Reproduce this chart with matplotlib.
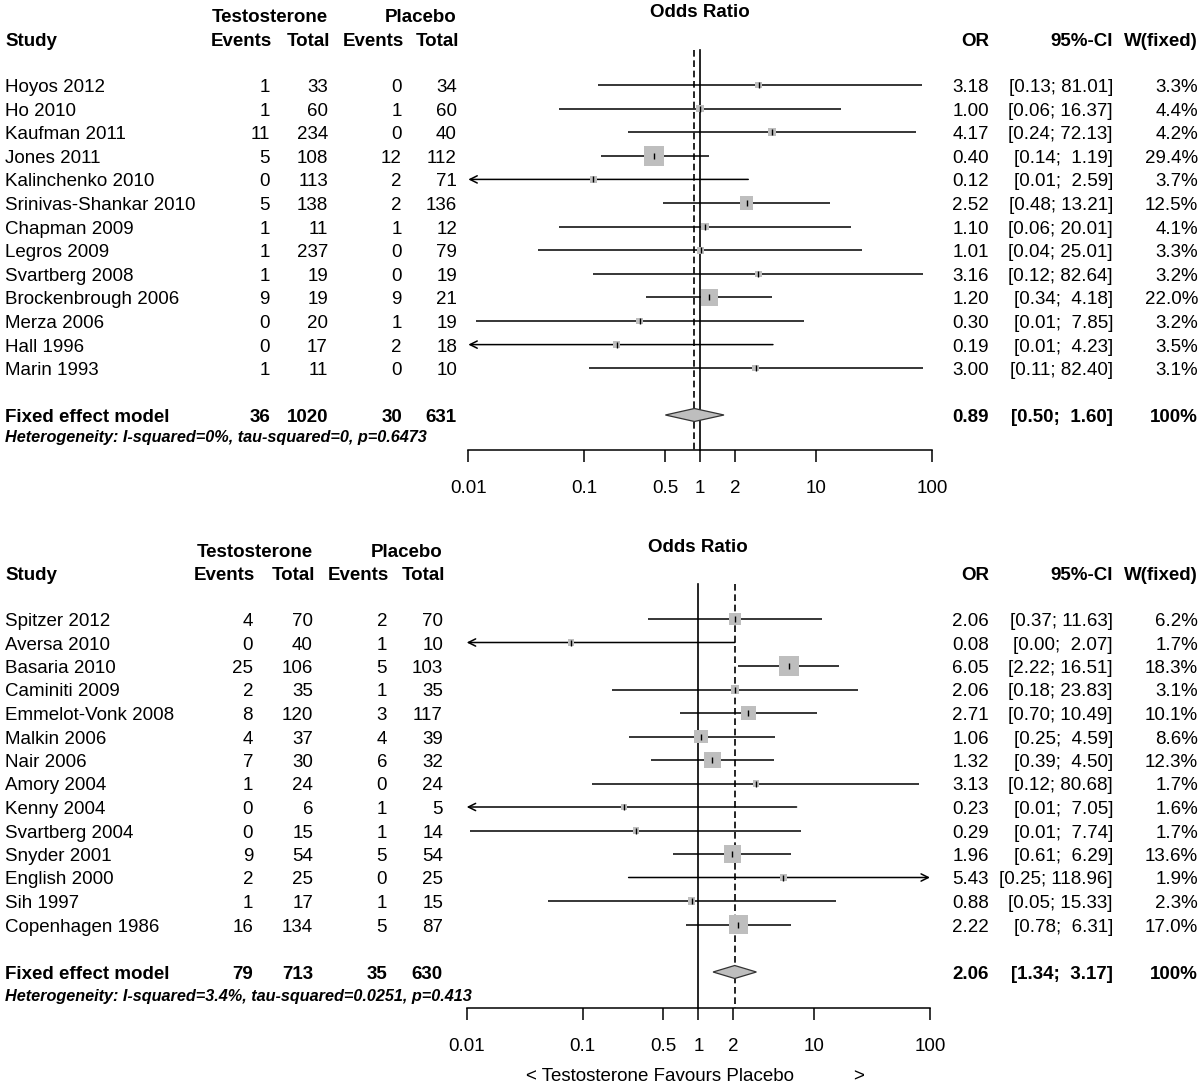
import matplotlib
matplotlib.use("Agg")
import matplotlib.pyplot as plt
from matplotlib.patches import Polygon

plt.rcParams['font.family'] = ['Liberation Sans', 'DejaVu Sans']

# ---------------- data: panel 1 ----------------
names1 = ["Hoyos 2012", "Ho 2010", "Kaufman 2011", "Jones 2011", "Kalinchenko 2010",
          "Srinivas-Shankar 2010", "Chapman 2009", "Legros 2009", "Svartberg 2008",
          "Brockenbrough 2006", "Merza 2006", "Hall 1996", "Marin 1993"]
ev_t1 = [1, 1, 11, 5, 0, 5, 1, 1, 1, 9, 0, 0, 1]
n_t1 = [33, 60, 234, 108, 113, 138, 11, 237, 19, 19, 20, 17, 11]
ev_p1 = [0, 1, 0, 12, 2, 2, 1, 0, 0, 9, 1, 2, 0]
n_p1 = [34, 60, 40, 112, 71, 136, 12, 79, 19, 21, 19, 18, 10]
or1 = [3.18, 1.00, 4.17, 0.40, 0.12, 2.52, 1.10, 1.01, 3.16, 1.20, 0.30, 0.19, 3.00]
lo1 = [0.13, 0.06, 0.24, 0.14, 0.006, 0.48, 0.06, 0.04, 0.12, 0.34, 0.0117, 0.008, 0.11]
hi1 = [81.01, 16.37, 72.13, 1.19, 2.59, 13.21, 20.01, 25.01, 82.64, 4.18, 7.85, 4.23, 82.40]
w1 = [3.3, 4.4, 4.2, 29.4, 3.7, 12.5, 4.1, 3.3, 3.2, 22.0, 3.2, 3.5, 3.1]
fixed_counts1 = [36, 1020, 30, 631]
fixed_or1 = [0.89, 0.50, 1.60]
het1 = "Heterogeneity: I-squared=0%, tau-squared=0, p=0.6473"

# ---------------- data: panel 2 ----------------
names2 = ["Spitzer 2012", "Aversa 2010", "Basaria 2010", "Caminiti 2009", "Emmelot-Vonk 2008",
          "Malkin 2006", "Nair 2006", "Amory 2004", "Kenny 2004", "Svartberg 2004",
          "Snyder 2001", "English 2000", "Sih 1997", "Copenhagen 1986"]
ev_t2 = [4, 0, 25, 2, 8, 4, 7, 1, 0, 0, 9, 2, 1, 16]
n_t2 = [70, 40, 106, 35, 120, 37, 30, 24, 6, 15, 54, 25, 17, 134]
ev_p2 = [2, 1, 5, 1, 3, 4, 6, 0, 1, 1, 5, 0, 1, 5]
n_p2 = [70, 10, 103, 35, 117, 39, 32, 24, 5, 14, 54, 25, 15, 87]
or2 = [2.06, 0.08, 6.05, 2.06, 2.71, 1.06, 1.32, 3.13, 0.23, 0.29, 1.96, 5.43, 0.88, 2.22]
lo2 = [0.37, 0.003, 2.22, 0.18, 0.70, 0.25, 0.39, 0.12, 0.007, 0.0107, 0.61, 0.25, 0.05, 0.78]
hi2 = [11.63, 2.07, 16.51, 23.83, 10.49, 4.59, 4.50, 80.68, 7.05, 7.74, 6.29, 118.96, 15.33, 6.31]
w2 = [6.2, 1.7, 18.3, 3.1, 10.1, 8.6, 12.3, 1.7, 1.6, 1.7, 13.6, 1.9, 2.3, 17.0]
fixed_counts2 = [79, 713, 35, 630]
fixed_or2 = [2.06, 1.34, 3.17]
het2 = "Heterogeneity: I-squared=3.4%, tau-squared=0.0251, p=0.413"

tick_vals = [0.01, 0.1, 0.5, 1, 2, 10, 100]
tick_labels = ["0.01", "0.1", "0.5", "1", "2", "10", "100"]
xlabel_left = "< Testosterone Favours Placebo"
xlabel_right = ">"

# ---------------- figure ----------------
W, H = 1200, 1085
fig = plt.figure(figsize=(12, 10.85), dpi=100)
ov = fig.add_axes([0, 0, 1, 1])
ov.set_xlim(0, W)
ov.set_ylim(H, 0)
ov.axis('off')

FS = 13.5
GRAY = '#bebebe'


def panel(names, ev_t, n_t, ev_p, n_p, ors, los, his, ws, fcounts, fors, het,
          y_head1, y_head2, y_first, dy, y_fixed, y_het, y_axis, y_top,
          ax_x0, ax_x1, cols, odds_x):
    # header texts
    ov.text(5, y_head2 + 7, "Study", fontsize=FS, fontweight='bold', ha='left', va='baseline')
    ov.text(cols[1], y_head1 + 7, "Testosterone", fontsize=FS, fontweight='bold', ha='right', va='baseline')
    ov.text(cols[3], y_head1 + 7, "Placebo", fontsize=FS, fontweight='bold', ha='right', va='baseline')
    for c, lab in zip(cols, ["Events", "Total", "Events", "Total"]):
        ov.text(c + 2, y_head2 + 7, lab, fontsize=FS, fontweight='bold', ha='right', va='baseline')
    ov.text(odds_x, y_head1 + 2, "Odds Ratio", fontsize=FS, fontweight='bold', ha='center', va='baseline')
    ov.text(989, y_head2 + 7, "OR", fontsize=FS, fontweight='bold', ha='right', va='baseline')
    ov.text(1113, y_head2 + 7, "95%-CI", fontsize=FS, fontweight='bold', ha='right', va='baseline')
    ov.text(1198, y_head2 + 7, "W(fixed)", fontsize=FS, fontweight='bold', ha='right', va='baseline')

    # forest axes
    ax = fig.add_axes([ax_x0 / W, 1 - y_axis / H, (ax_x1 - ax_x0) / W, (y_axis - y_top) / H])
    ax.set_xscale('log')
    ax.set_xlim(0.01, 100)
    ax.set_ylim(y_axis, y_top)
    ax.patch.set_visible(False)
    for s in ['top', 'left', 'right']:
        ax.spines[s].set_visible(False)
    ax.spines['bottom'].set_linewidth(1.1)
    ax.set_yticks([])
    ax.set_xticks(tick_vals)
    ax.set_xticklabels(tick_labels, fontsize=FS)
    ax.minorticks_off()
    ax.tick_params(axis='x', direction='out', length=8.6, width=1.1, pad=13)

    # reference lines
    ax.plot([1, 1], [y_top + 48, y_axis], color='black', lw=1.2, clip_on=False)
    ax.plot([fors[0], fors[0]], [y_top + 48, y_axis], color='black', lw=1.2,
            dashes=(4.0, 2.2), clip_on=False)

    wmax = max(ws)
    for i in range(len(names)):
        yc = y_first + dy * i
        yb = yc + 7
        ov.text(5, yb, names[i], fontsize=FS, ha='left', va='baseline')
        for c, v in zip(cols, [ev_t[i], n_t[i], ev_p[i], n_p[i]]):
            ov.text(c, yb, str(v), fontsize=FS, ha='right', va='baseline')
        ov.text(989, yb, f"{ors[i]:.2f}", fontsize=FS, ha='right', va='baseline')
        ov.text(1113, yb, f"[{los[i]:.2f}; {his[i]:5.2f}]", fontsize=FS, ha='right', va='baseline')
        ov.text(1198, yb, f"{ws[i]:.1f}%", fontsize=FS, ha='right', va='baseline')

        lo, hi = los[i], his[i]
        if lo < 0.01:
            ax.annotate('', xy=(0.01, yc), xytext=(hi, yc),
                        arrowprops=dict(arrowstyle='->', lw=1.1, color='black',
                                        shrinkA=0, shrinkB=0, mutation_scale=13))
        elif hi > 100:
            ax.annotate('', xy=(100, yc), xytext=(lo, yc),
                        arrowprops=dict(arrowstyle='->', lw=1.1, color='black',
                                        shrinkA=0, shrinkB=0, mutation_scale=13))
        else:
            ax.plot([lo, hi], [yc, yc], color='black', lw=1.1, solid_capstyle='butt')
        side_px = 20 * (ws[i] / wmax) ** 0.5
        ax.scatter([ors[i]], [yc], marker='s', s=(side_px * 0.72) ** 2, color=GRAY,
                   edgecolors='none', zorder=3, clip_on=False)
        ax.scatter([ors[i]], [yc], marker='|', s=5.0 ** 2, color='black', linewidths=1.0,
                   zorder=4, clip_on=False)

    # fixed effect row
    yb = y_fixed + 7
    ov.text(5, yb, "Fixed effect model", fontsize=FS, fontweight='bold', ha='left', va='baseline')
    for c, v in zip(cols, fcounts):
        ov.text(c, yb, str(v), fontsize=FS, fontweight='bold', ha='right', va='baseline')
    ov.text(989, yb, f"{fors[0]:.2f}", fontsize=FS, fontweight='bold', ha='right', va='baseline')
    ov.text(1113, yb, f"[{fors[1]:.2f}; {fors[2]:5.2f}]", fontsize=FS, fontweight='bold',
            ha='right', va='baseline')
    ov.text(1198, yb, "100%", fontsize=FS, fontweight='bold', ha='right', va='baseline')
    dia = Polygon([[fors[1], y_fixed], [fors[0], y_fixed - 6.5], [fors[2], y_fixed],
                   [fors[0], y_fixed + 6.5]], closed=True, facecolor=GRAY,
                  edgecolor='#333333', lw=0.9, zorder=3)
    ax.add_patch(dia)

    ov.text(5, y_het + 5, het, fontsize=11.7, fontweight='bold', style='italic',
            ha='left', va='baseline')
    return ax


panel(names1, ev_t1, n_t1, ev_p1, n_p1, or1, lo1, hi1, w1, fixed_counts1, fixed_or1, het1,
      y_head1=15, y_head2=39, y_first=85, dy=23.6, y_fixed=415, y_het=437,
      y_axis=450, y_top=2, ax_x0=468.3, ax_x1=932.3, cols=[270, 328, 402, 457], odds_x=700)

panel(names2, ev_t2, n_t2, ev_p2, n_p2, or2, lo2, hi2, w2, fixed_counts2, fixed_or2, het2,
      y_head1=550, y_head2=573, y_first=619, dy=23.5, y_fixed=972, y_het=996,
      y_axis=1008, y_top=536, ax_x0=466.7, ax_x1=930.0, cols=[253, 313, 387, 443], odds_x=698)

ov.text(526, 1081, xlabel_left, fontsize=FS, ha='left', va='baseline')
ov.text(853, 1081, xlabel_right, fontsize=FS, ha='left', va='baseline')

fig.savefig("out.png", dpi=100)
